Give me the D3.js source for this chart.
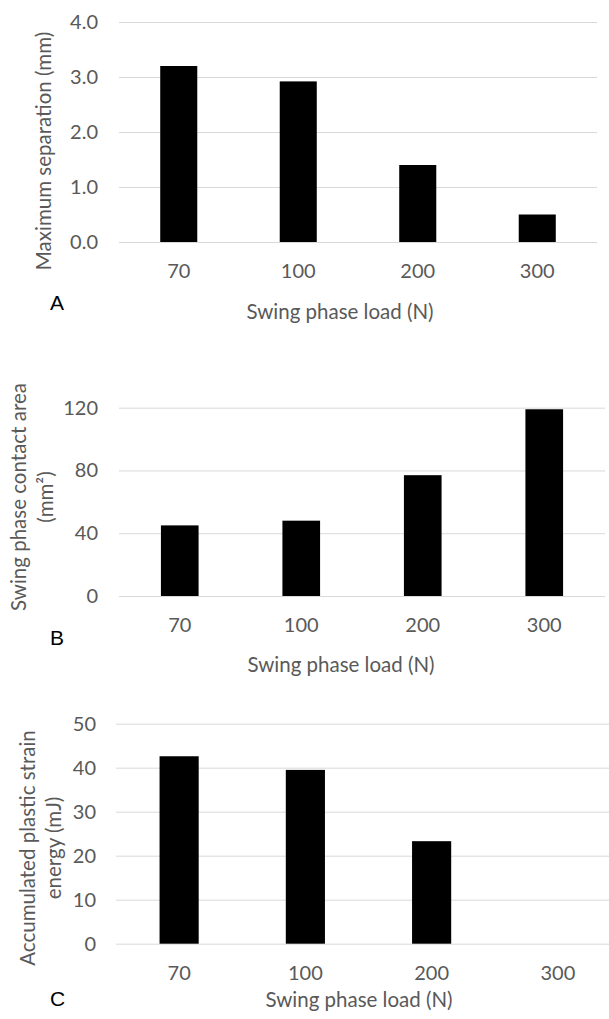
<!DOCTYPE html>
<html>
<head>
<meta charset="utf-8">
<script src="https://cdn.jsdelivr.net/npm/d3@7"></script>
<style>
  body { margin: 0; background: #fff; }
  svg text { font-family: Lato, "Open Sans", sans-serif; fill: #595959; }
</style>
</head>
<body>
<svg id="chart" width="609" height="1019"></svg>
<script>
// data
var loads = ["70", "100", "200", "300"];
var separation = [3.2, 2.92, 1.4, 0.5];        // mm
var contactArea = [45, 48, 77, 119];           // mm^2
var strainEnergy = [42.6, 39.5, 23.3, null];   // mJ, no bar at 300 N

var sepTicks = [0, 1, 2, 3, 4];
var areaTicks = [0, 40, 80, 120];
var energyTicks = [0, 10, 20, 30, 40, 50];

var tickFont = "20px";
var titleFont = "20.5px";

var svg = d3.select("#chart");

function drawPanel(p){
    var g = svg.append("g");

    var x = d3.scaleBand()
        .domain(loads)
        .range([p.left, p.right])
        .paddingInner(0.69)
        .paddingOuter(0.345);

    var y = d3.scaleLinear()
        .domain([0, p.max])
        .range([p.bottom, p.top]);

    // gridlines + y tick labels
    var yAxis = g.append("g")
        .attr("transform", "translate(" + p.left + ",0)")
        .call(d3.axisLeft(y)
            .tickValues(p.ticks)
            .tickSize(-(p.right - p.left))
            .tickPadding(p.left - p.labelRight)
            .tickFormat(p.fmt));
    yAxis.select(".domain").remove();
    yAxis.selectAll("line").attr("stroke", "#d9d9d9").attr("stroke-width", 1);
    yAxis.selectAll("text")
        .attr("font-size", tickFont)
        .attr("font-family", null)
        .attr("fill", "#595959");

    // bars
    g.append("g").selectAll("rect")
        .data(p.values.map(function(v, i){ return {k: loads[i], v: v}; })
            .filter(function(d){ return d.v !== null; }))
        .enter().append("rect")
        .attr("x", function(d){ return x(d.k); })
        .attr("width", x.bandwidth())
        .attr("y", function(d){ return y(d.v); })
        .attr("height", function(d){ return y(0) - y(d.v); })
        .attr("fill", "#000");

    // category labels
    var xAxis = g.append("g")
        .attr("transform", "translate(0," + p.bottom + ")")
        .call(d3.axisBottom(x).tickSize(0).tickPadding(p.xPad));
    xAxis.select(".domain").remove();
    xAxis.selectAll("text")
        .attr("font-size", tickFont)
        .attr("font-family", null)
        .attr("fill", "#595959");

    // x title
    g.append("text")
        .attr("x", p.xTitleX)
        .attr("y", p.xTitleY)
        .attr("text-anchor", "middle")
        .attr("font-size", titleFont)
        .text("Swing phase load (N)");

    // y title (one or two lines)
    p.yTitle.forEach(function(line, i){
        g.append("text")
            .attr("transform", "translate(" + p.yTitleX[i] + "," + p.yTitleY + ") rotate(-90)")
            .attr("text-anchor", "middle")
            .attr("dominant-baseline", "central")
            .attr("font-size", titleFont)
            .text(line);
    });

    // panel letter
    g.append("text")
        .attr("x", 50)
        .attr("y", p.letterY)
        .attr("font-size", "21px")
        .style("font-family", "'Liberation Sans', Arial, sans-serif")
        .style("fill", "#000")
        .text(p.letter);
}

drawPanel({
    letter: "A", letterY: 310,
    left: 119, right: 597, top: 22, bottom: 242,
    max: 4, ticks: sepTicks, fmt: d3.format(".1f"), labelRight: 98,
    values: separation, xPad: 22,
    xTitleX: 340, xTitleY: 319,
    yTitle: ["Maximum separation (mm)"], yTitleX: [43], yTitleY: 151
});

drawPanel({
    letter: "B", letterY: 645,
    left: 119, right: 605, top: 407.7, bottom: 596,
    max: 120, ticks: areaTicks, fmt: d3.format("d"), labelRight: 98,
    values: contactArea, xPad: 22,
    xTitleX: 341, xTitleY: 672,
    yTitle: ["Swing phase contact area", "(mm\u00B2)"], yTitleX: [18, 45], yTitleY: 497
});

drawPanel({
    letter: "C", letterY: 1006,
    left: 116, right: 621, top: 723.7, bottom: 943.7,
    max: 50, ticks: energyTicks, fmt: d3.format("d"), labelRight: 96,
    values: strainEnergy, xPad: 22,
    xTitleX: 359, xTitleY: 1007,
    yTitle: ["Accumulated plastic strain", "energy (mJ)"], yTitleX: [27, 53], yTitleY: 848
});
</script>
</body>
</html>
